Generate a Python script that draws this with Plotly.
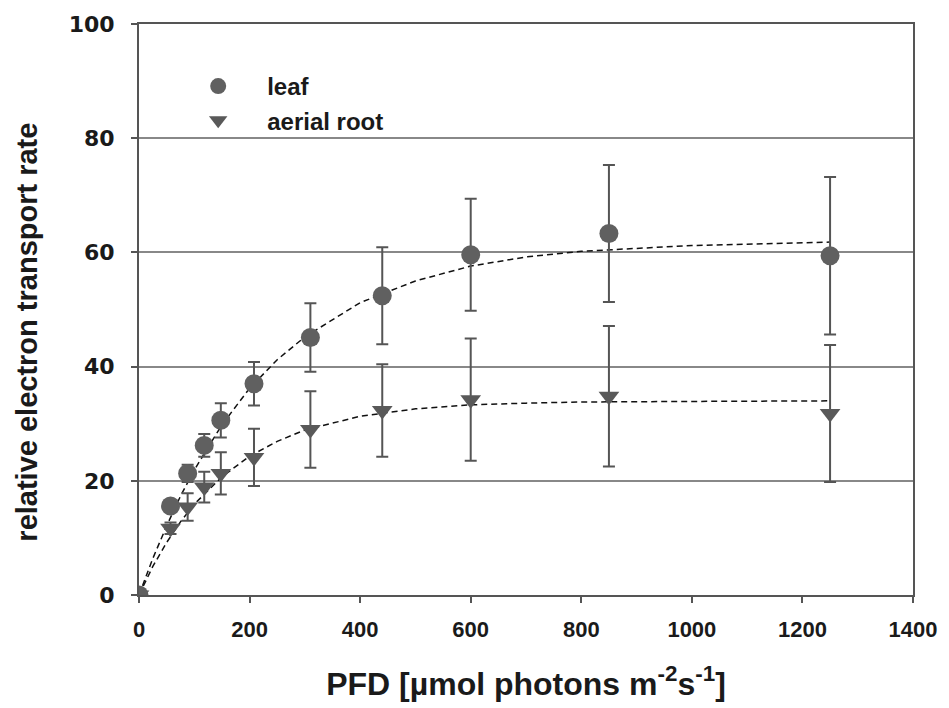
import plotly.graph_objects as go

# measured points (PFD in umol photons m-2 s-1)
pfd = [0, 57, 88, 118, 148, 208, 310, 440, 600, 850, 1250]

leaf_etr = [0, 15.6, 21.3, 26.2, 30.6, 37.0, 45.1, 52.4, 59.6, 63.3, 59.4]
leaf_err = [0, 0.8, 1.5, 2.0, 3.0, 3.8, 6.0, 8.5, 9.8, 12.0, 13.8]

root_etr = [0, 11.7, 15.4, 18.9, 21.3, 24.1, 29.0, 32.3, 34.2, 34.8, 31.8]
root_err = [0, 1.0, 2.4, 2.7, 3.7, 5.0, 6.7, 8.1, 10.7, 12.3, 12.0]

# fitted curves
fit_pfd = [0, 25, 50, 75, 100, 150, 200, 250, 300, 400, 500, 600, 700, 800, 1000, 1250]
leaf_fit = [0, 6.4, 12.1, 17.3, 21.9, 29.8, 36.2, 41.2, 45.2, 51.2, 55.0, 57.6, 59.2, 60.2, 61.2, 61.8]
root_fit = [0, 5.0, 9.2, 12.8, 15.9, 20.7, 24.3, 26.9, 28.9, 31.3, 32.6, 33.3, 33.6, 33.8, 33.9, 34.0]

FONT = "Liberation Sans"
HEAVY = "DejaVu Sans"
INK = "#1a1a1a"

fig = go.Figure()

# dashed fit lines
fig.add_trace(go.Scatter(x=fit_pfd, y=leaf_fit, mode="lines", showlegend=False,
                         line=dict(color="#111111", width=1.5, dash="6px,4px")))
fig.add_trace(go.Scatter(x=fit_pfd, y=root_fit, mode="lines", showlegend=False,
                         line=dict(color="#111111", width=1.5, dash="6px,4px")))

# data with error bars
fig.add_trace(go.Scatter(
    x=pfd, y=root_etr, mode="markers", name="aerial root",
    marker=dict(symbol="triangle-down", size=18, color="#595959"),
    error_y=dict(type="data", array=root_err, color="#555555", thickness=2, width=6),
))
fig.add_trace(go.Scatter(
    x=pfd, y=leaf_etr, mode="markers", name="leaf",
    marker=dict(symbol="circle", size=19, color="#606060"),
    error_y=dict(type="data", array=leaf_err, color="#555555", thickness=2, width=6),
))

fig.update_xaxes(
    range=[0, 1400], tickvals=[0, 200, 400, 600, 800, 1000, 1200, 1400],
    ticks="outside", ticklen=6, tickwidth=1.5, tickcolor="#555555",
    showline=True, linecolor="#555555", linewidth=2, mirror=True,
    showgrid=False, zeroline=False,
    tickfont=dict(family=FONT, size=22, color=INK, weight="bold"),
    ticklabelstandoff=8,
    title=dict(text="PFD [µmol photons m<sup>-2</sup>s<sup>-1</sup>]", standoff=31,
               font=dict(family=FONT, size=32, color=INK, weight="bold")),
)
fig.update_yaxes(
    range=[0, 100], tickvals=[0, 20, 40, 60, 80, 100],
    ticks="outside", ticklen=6, tickwidth=1.5, tickcolor="#555555",
    showline=True, linecolor="#555555", linewidth=2, mirror=True,
    showgrid=True, gridcolor="#888888", gridwidth=1.5, zeroline=False,
    tickfont=dict(family=HEAVY, size=22, color=INK, weight="bold"),
    ticklabelstandoff=12,
)

fig.update_layout(
    width=949, height=708,
    margin=dict(l=139, r=34, t=23, b=113),
    plot_bgcolor="white", paper_bgcolor="white",
    legend=dict(x=0.039, y=0.93, xanchor="left", yanchor="top",
                traceorder="reversed", itemwidth=88, bgcolor="rgba(0,0,0,0)",
                font=dict(family=FONT, size=24, color=INK, weight="bold")),
    annotations=[dict(
        text="relative electron transport rate", textangle=-90,
        xref="paper", yref="paper", x=-0.1443, y=0.46,
        xanchor="center", yanchor="middle", showarrow=False,
        font=dict(family=FONT, size=29, color=INK, weight="bold"),
    )],
)

fig.write_html("out.html", config={"displayModeBar": False},
               post_script="document.body.style.margin='0';")
